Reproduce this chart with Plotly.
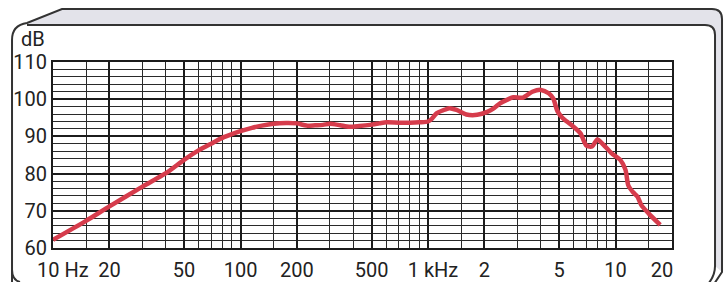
import plotly.graph_objects as go

# ---- data ----
freq_hz = [10, 15, 20, 30, 40, 50, 60, 70, 80, 90, 100, 115, 130, 150, 175, 200, 225, 250,
           275, 300, 340, 380, 430, 490, 550, 600, 700, 800, 900, 1000, 1050, 1110, 1200,
           1300, 1420, 1600, 1830, 2070, 2250, 2420, 2650, 2850, 3200, 3600, 4000, 4400,
           4650, 4900, 5200, 5500, 5900, 6500, 7000, 7500, 8000, 8600, 9500, 10600, 11300,
           11700, 12400, 13100, 13700, 15000, 17300]
level_db = [62.2, 67.3, 71.2, 76.5, 80.1, 83.7, 86.3, 88.1, 89.6, 90.6, 91.4, 92.3, 92.9,
            93.4, 93.6, 93.5, 92.9, 93.0, 93.1, 93.4, 93.0, 92.6, 92.8, 93.1, 93.5, 93.8,
            93.7, 93.7, 93.8, 94.0, 94.8, 96.2, 97.0, 97.6, 97.1, 95.9, 95.8, 96.6, 97.6,
            98.9, 99.9, 100.5, 100.4, 102.0, 102.5, 101.6, 100.2, 96.8, 95.0, 94.0, 92.8,
            90.8, 87.5, 87.3, 89.2, 87.8, 85.5, 83.7, 81.0, 76.8, 75.0, 73.8, 71.6, 69.3,
            66.2]

x_major_vals = [10, 20, 50, 100, 200, 500, 1000, 2000, 5000, 10000, 20000]
x_major_text = ["\u00a0\u00a0\u00a0\u00a010 Hz", "20", "50", "100", "200", "500",
                "\u00a0\u00a01 kHz", "2", "5", "10", "20\u00a0\u00a0\u00a0\u00a0"]
x_minor_vals = [15, 30, 40, 60, 70, 80, 90, 150, 300, 400, 600, 700, 800, 900,
                1500, 3000, 4000, 6000, 7000, 8000, 9000, 15000]
y_major_vals = [60, 70, 80, 90, 100, 110]
y_minor_vals = [62, 64, 66, 68, 72, 74, 76, 78, 82, 84, 86, 88, 92, 94, 96, 98,
                102, 104, 106, 108]

W, H = 726, 282
L, R, T, B = 53, 54, 62, 34
PW, PH = W - L - R, H - T - B


def px(x, y):
    return (x - L) / PW, 1 - (y - T) / PH


def path(points, close=False):
    s = ""
    for i, p in enumerate(points):
        if p[0] == "Q":
            (cx, cy), (ex, ey) = px(*p[1]), px(*p[2])
            s += f" Q {cx:.4f},{cy:.4f} {ex:.4f},{ey:.4f}"
        else:
            x, y = px(*p)
            s += (" M " if i == 0 else " L ") + f"{x:.4f},{y:.4f}"
    if close:
        s += " Z"
    return s


fig = go.Figure()
fig.add_trace(go.Scatter(
    x=freq_hz, y=level_db, mode="lines",
    line=dict(color="#d63c4c", width=4.5, shape="spline", smoothing=0.7),
    hoverinfo="skip", showlegend=False,
))

font = dict(family="Roboto, Liberation Sans, sans-serif", size=20, color="#222222")

fig.update_layout(
    width=W, height=H,
    margin=dict(l=L, r=R, t=T, b=B, pad=0, autoexpand=False),
    paper_bgcolor="white", plot_bgcolor="white",
    font=font,
    xaxis=dict(
        type="log", range=[1, 4.30103], automargin=False,
        tickmode="array", tickvals=x_major_vals, ticktext=x_major_text,
        showgrid=True, gridcolor="#1c1c1c", gridwidth=2,
        showline=True, mirror=True, linecolor="#1c1c1c", linewidth=2,
        ticks="", ticklabelstandoff=3, tickfont=font,
        minor=dict(tickvals=x_minor_vals, showgrid=True, gridcolor="#2a2a2a",
                   gridwidth=1, ticks=""),
        zeroline=False, fixedrange=True,
    ),
    yaxis=dict(
        range=[60, 110], automargin=False,
        tickmode="array", tickvals=y_major_vals,
        showgrid=True, gridcolor="#1c1c1c", gridwidth=2,
        showline=True, mirror=True, linecolor="#1c1c1c", linewidth=2,
        ticks="", ticklabelstandoff=0, tickfont=font,
        minor=dict(tickvals=y_minor_vals, showgrid=True, gridcolor="#2a2a2a",
                   gridwidth=1, ticks=""),
        zeroline=False, fixedrange=True,
    ),
)

dbx, dby = px(33, 39)
fig.add_annotation(text="dB", x=dbx, y=dby, xref="paper", yref="paper",
                   showarrow=False, xanchor="center", yanchor="middle", font=font)

# decorative frame: gray band
band = [(27, 23), (62, 9), (712, 9), ("Q", (722, 9), (722, 19)), (722, 272),
        (715, 266), (715, 35), ("Q", (715, 25), (705, 25)), (27, 25)]
fig.add_shape(type="path", xref="paper", yref="paper", path=path(band, close=True),
              fillcolor="#e3e3ea", line=dict(width=0), layer="below")
outer = [(12, 284), (12, 40), ("Q", (12, 25), (27, 23)), (62, 9), (712, 9),
         ("Q", (722, 9), (722, 19)), (722, 272), (714, 284)]
fig.add_shape(type="path", xref="paper", yref="paper", path=path(outer),
              line=dict(color="#333333", width=2))
inner = [(27, 25), (705, 25), ("Q", (715, 25), (715, 35)), (715, 266),
         ("Q", (715, 276), (708, 284))]
fig.add_shape(type="path", xref="paper", yref="paper", path=path(inner),
              line=dict(color="#333333", width=2))
bl = [(12, 270), ("Q", (12, 280), (20, 282))]
fig.add_shape(type="path", xref="paper", yref="paper", path=path(bl),
              line=dict(color="#333333", width=2))

fig.write_html("out.html",
               config={"displayModeBar": False, "staticPlot": True},
               post_script="document.body.style.margin='0';"
                           "document.body.style.overflow='hidden';")
